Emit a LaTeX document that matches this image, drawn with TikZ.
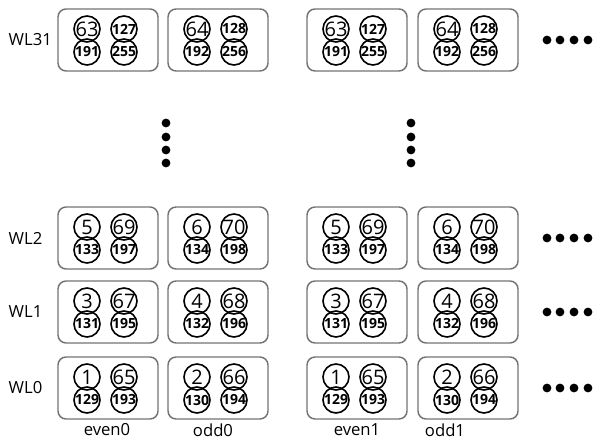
\documentclass[tikz,border=0pt]{standalone}
\usepackage{fontspec}
\setmainfont{Open Sans}
\newcommand{\nomer}[1]{\makebox[0pt]{#1}}
\tikzset{
  blok/.style={draw=black!55, line width=1.1pt, rounded corners=6pt,
    minimum width=75pt, minimum height=46.5pt, inner sep=0pt},
  yach/.style={circle, draw, line width=1.2pt, minimum size=19.5pt, inner sep=0pt},
  bol/.style={yach, font=\fontsize{15}{15}\selectfont},
  mal/.style={yach, font=\bfseries\fontsize{10.5}{10.5}\selectfont},
  podp/.style={font=\fontsize{12.5}{12.5}\selectfont},
}
\begin{document}
\begin{tikzpicture}[x=0.75pt,y=-0.75pt]
  \useasboundingbox (0,0) rectangle (596,441);

  % Строки WL
  \foreach \r/\y in {31/40, 2/238, 1/312, 0/388} {
    \node[podp, anchor=west] (wl\r) at (4,\y) {WL\r};
    \foreach \c/\x/\p in {e0/108/1, o0/218/2, e1/357/1, o1/468/2} {
      \pgfmathtruncatemacro{\a}{2*\r+\p}
      \pgfmathtruncatemacro{\b}{\a+64}
      \pgfmathtruncatemacro{\cc}{\a+128}
      \pgfmathtruncatemacro{\d}{\a+192}
      \def\vid{bol}\ifnum\b>99 \def\vid{mal}\fi
      \node[blok] (b\c-\r) at (\x,\y) {};
      \node[bol] (n\c-\r-a) at (\x-21,\y-11) {\nomer{\a}};
      \node[\vid] (n\c-\r-b) at (\x+16,\y-11) {\nomer{\b}};
      \node[mal] (n\c-\r-c) at (\x-21,\y+12) {\nomer{\cc}};
      \node[mal] (n\c-\r-d) at (\x+16,\y+12) {\nomer{\d}};
    }
    % Многоточие справа
    \foreach \t in {547,560,574,588}
      \fill (\t,\y) circle (3.3pt);
  }

  % Многоточие по вертикали
  \foreach \t in {123,137,150,163} {
    \fill (166,\t) circle (3.3pt);
    \fill (411,\t) circle (3.3pt);
  }

  % Подписи столбцов
  \node[podp] (even0) at (107,430) {even0};
  \node[podp] (odd0) at (213,430) {odd0};
  \node[podp] (even1) at (357,430) {even1};
  \node[podp] (odd1) at (445,430) {odd1};
\end{tikzpicture}
\end{document}
